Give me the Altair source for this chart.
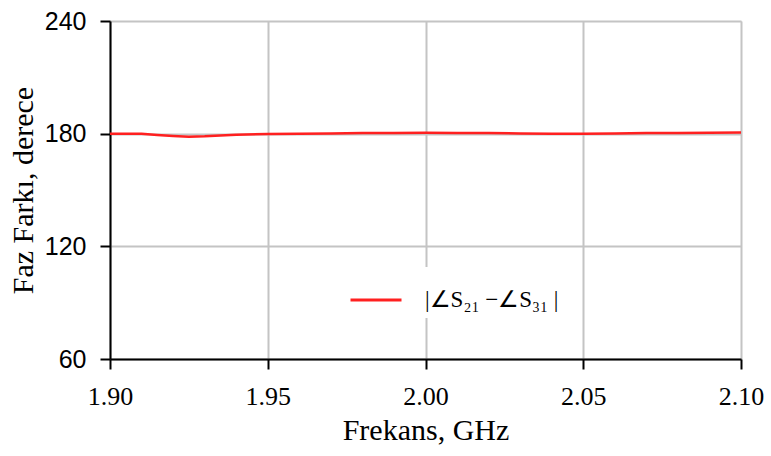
import altair as alt
import pandas as pd

# Phase difference between the two output ports across the band
freq_ghz = [1.900, 1.910, 1.915, 1.920, 1.925, 1.930, 1.935, 1.940, 1.950,
            1.960, 1.970, 1.980, 1.990, 2.000, 2.010, 2.020, 2.030, 2.040,
            2.050, 2.060, 2.070, 2.080, 2.090, 2.100]
phase_deg = [180.0, 179.9, 179.3, 178.8, 178.4, 178.6, 179.0, 179.4, 179.8,
             180.0, 180.1, 180.3, 180.4, 180.5, 180.4, 180.3, 180.1, 180.0,
             180.0, 180.1, 180.3, 180.4, 180.5, 180.6]
series_label = "|∠S₂₁  −∠S₃₁  |"

x_ticks = [1.90, 1.95, 2.00, 2.05, 2.10]
y_ticks = [60, 120, 180, 240]

df = pd.DataFrame({"f": freq_ghz, "phase": phase_deg, "series": series_label})

serif = "Liberation Serif"
sans = "Liberation Sans"

chart = alt.Chart(df).mark_line(strokeWidth=2.5, clip=True).encode(
    x=alt.X("f:Q",
            scale=alt.Scale(domain=[1.9, 2.1], nice=False, zero=False),
            axis=alt.Axis(values=x_ticks, format=".2f", title="Frekans, GHz",
                          labelFont=serif, labelFontSize=26, labelColor="black",
                          labelPadding=14, tickSize=10, tickColor="black",
                          tickWidth=2, domainColor="black", domainWidth=2,
                          titleFont=serif, titleFontSize=30, titleFontWeight="normal",
                          titleColor="black", titlePadding=6,
                          gridColor="#c4c4c4", gridWidth=2,
                          labelFlush=False)),
    y=alt.Y("phase:Q",
            scale=alt.Scale(domain=[60, 240], nice=False, zero=False),
            axis=alt.Axis(values=y_ticks, title="Faz Farkı, derece",
                          labelFont=sans, labelFontSize=25, labelColor="black",
                          labelPadding=14, tickSize=10, tickColor="black",
                          tickWidth=2, domainColor="black", domainWidth=2,
                          titleFont=serif, titleFontSize=30, titleFontWeight="normal",
                          titleColor="black", titlePadding=6,
                          gridColor="#c4c4c4", gridWidth=2,
                          labelFlush=False)),
    color=alt.Color("series:N",
                    scale=alt.Scale(range=["#ff2020"]),
                    legend=alt.Legend(title=None, orient="none",
                                      legendX=233, legendY=246,
                                      symbolType="stroke", symbolSize=2601,
                                      symbolStrokeWidth=3, labelOffset=22,
                                      labelFont=serif, labelFontSize=23,
                                      labelColor="black", fillColor="white",
                                      padding=6)),
).properties(
    width=631,
    height=338,
    autosize=alt.AutoSizeParams(type="none"),
    padding={"left": 110, "top": 21, "right": 30, "bottom": 97},
).configure_view(
    stroke="black", strokeWidth=2
).configure(background="white")

chart.save("out.html", embed_options={"renderer": "svg", "actions": False})
